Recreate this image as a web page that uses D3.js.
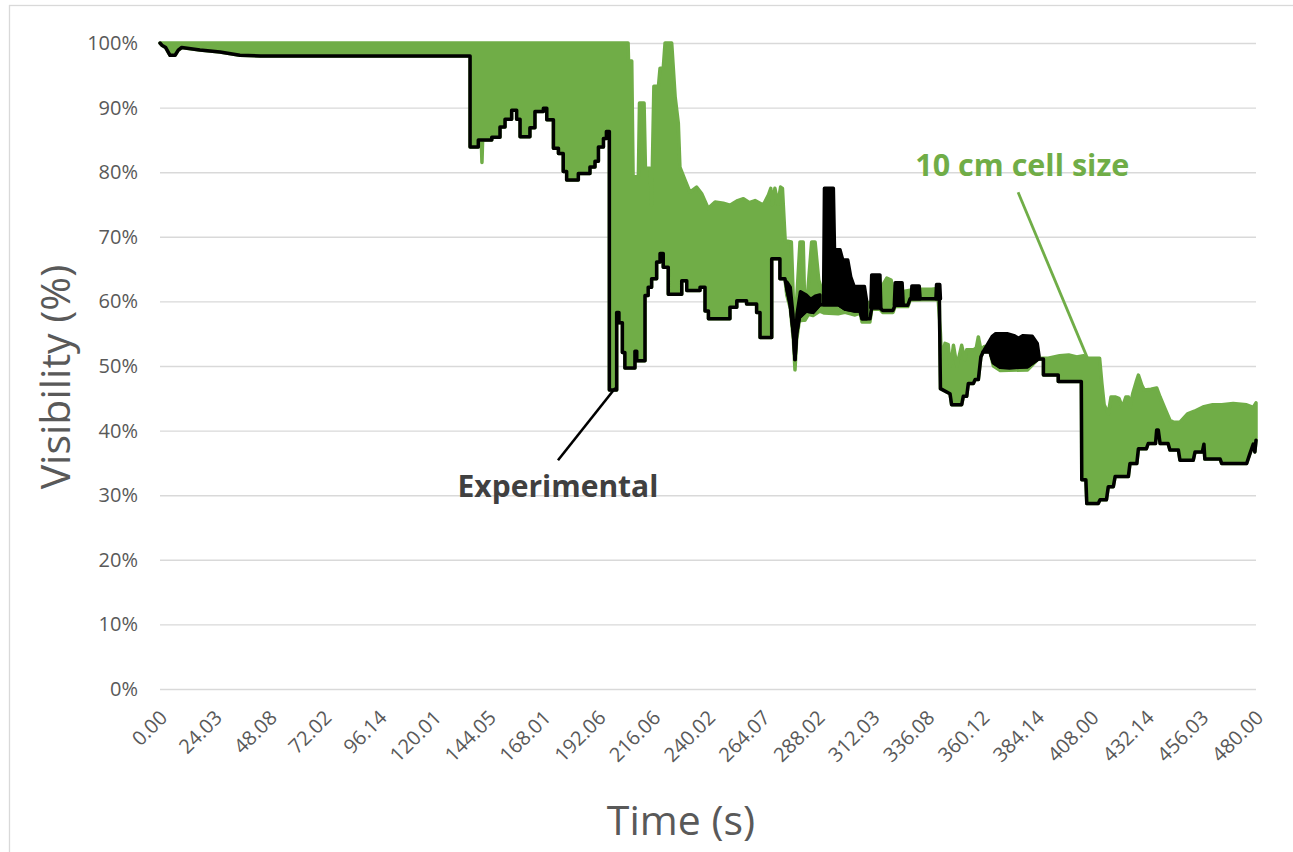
<!DOCTYPE html>
<html>
<head>
<meta charset="utf-8">
<script src="https://cdn.jsdelivr.net/npm/d3@7"></script>
<style>
  html, body { margin: 0; padding: 0; background: #ffffff; }
  svg { display: block; font-family: "Open Sans", "Liberation Sans", sans-serif; }
</style>
</head>
<body>
<svg id="chart" width="1293" height="852"></svg>
<script>
// ---------------- data (time in s, visibility in %) ----------------
const timeTickLabels = [0.00, 24.03, 48.08, 72.02, 96.14, 120.01, 144.05, 168.01, 192.06, 216.06,
  240.02, 264.07, 288.02, 312.03, 336.08, 360.12, 384.14, 408.00, 432.14, 456.03, 480.00];
const visibilityTicks = [0, 10, 20, 30, 40, 50, 60, 70, 80, 90, 100];

// Experimental series (main step line)
const experimental = [
  [0,100],[1,99.6],[2.5,99.3],[4.4,98.1],[6.6,98.1],[8,98.9],[9.5,99.3],[17.5,98.9],[26.3,98.6],[35,98.1],[44,98.0],[135.8,98.0],
  [135.8,83.9],[139.4,83.9],[139.4,85.0],[145.3,85.0],[145.3,85.4],[148.9,85.4],[148.9,87.0],[151.1,87.0],[151.1,88.2],[154.0,88.2],
  [154.0,89.6],[156.2,89.6],[156.2,88.2],[157.7,88.2],[157.7,85.5],[162.0,85.5],[162.0,86.9],[164.2,86.9],[164.2,89.4],[167.9,89.4],
  [167.9,89.9],[169.4,89.9],[169.4,88.1],[172.3,88.1],[172.3,83.7],[174.5,83.7],[174.5,82.9],[176.6,82.9],[176.6,80.1],[178.1,80.1],
  [178.1,78.8],[183.2,78.8],[183.2,79.8],[188.3,79.8],[188.3,80.8],[190.5,80.8],[190.5,81.7],[192.0,81.7],[192.0,83.9],[194.2,83.9],
  [194.2,85.2],[195.5,85.2],[195.5,86.3],[196.8,86.3],
  [196.8,46.3],[200,46.3],[200,58.3],[201,58.3],[201,56.7],[202.5,56.7],[202.5,52.1],[203.6,52.1],[203.6,49.7],[208.0,49.7],
  [208.0,52.3],[208.8,52.3],[208.8,50.8],[212.4,50.8],[212.4,60.9],[213.8,60.9],[213.8,62.2],[215.3,62.2],[215.3,63.5],[217.5,63.5],
  [217.5,66.1],[219.0,66.1],[219.0,67.4],[220.4,67.4],[220.4,65.3],[222.6,65.3],[222.6,61.1],[228.5,61.1],[228.5,63.2],[230.7,63.2],
  [230.7,61.7],[236.5,61.7],[236.5,62.2],[238.7,62.2],[238.7,58.5],[240.2,58.5],[240.2,57.3],[249.6,57.3],[249.6,59.1],[252.6,59.1],
  [252.6,60.1],[256.9,60.1],[256.9,59.6],[261.3,59.6],[261.3,58.3],[262.8,58.3],[262.8,54.4],[267.9,54.4],[267.9,66.6],[271.5,66.6],
  [271.5,63.5],[273.7,63.5],[274.5,62],[276,59.5],[277.4,55],[278.1,51],[278.8,55],[280,57.5],[283,58.5],[286,58.3],[289,59.5],
  [297,59.5],[300,58.8],[304.4,58.5],[306.6,58.5],[307.5,57.3],[310.9,57.3],[311.7,59],[315.3,59],[316.5,58.6],[321,58.6],
  [321.9,59.4],[327.5,59.4],[328.5,60.4],[340.2,60.4],[341.3,60.8],[341.8,46.5],[346,45.7],[346.7,44.0],[351.1,44.0],[351.8,45.3],
  [353.3,45.3],[354,47.3],[356.2,47.3],[357,47.9],[358.4,47.9],[359.5,51.4],[360.5,52.2],[363.5,52.2],[365,50.5],[368,49.8],
  [380,49.9],[384.7,51.1],[386.9,51.1],[386.9,48.6],[393.4,48.6],[393.4,47.6],[403.5,47.6],[403.7,32.4],[405.5,32.4],[405.9,28.7],
  [410.9,28.7],[411.7,29.3],[414.5,29.3],[415.3,31.3],[417.5,31.3],[418.3,32.9],[424.1,32.9],[424.8,34.9],[427.8,34.9],[428.5,37.2],
  [432,37.2],[432.8,38.0],[436,38.0],[436.5,40.1],[437.2,40.1],[438,38.0],[441.5,38.0],[442.3,37.0],[446,37.0],[446.7,35.4],
  [452.5,35.4],[453.3,36.7],[456.5,36.7],[457.2,37.9],[457.6,35.6],[464.3,35.6],[465,34.9],[475.9,34.9],[477.3,36.4],[478.8,37.9],
  [479.5,36.7],[480,38.5]
];

// Experimental: rapidly oscillating stretches (outline: upper edge, then lower edge back)
const expOscillation1 = [[274.5,63],[276,62.2],[277.2,58],[278.1,52.5],[279,58],[280.5,61.5],[283,61],[285,60.3],[287,60.8],[289,61],
  [289,59.5],[286,58.3],[283,58.5],[280,57.5],[278.8,55],[278.1,51],[277.4,55],[276,59.5],[274.5,62]];
const expOscillation2 = [[290.6,59.5],[291.0,77.5],[294.9,77.5],[295.4,68.0],[297.8,68.0],[299.0,66.4],[301.2,66.4],[302.5,63.8],
  [304.0,62.3],[308.5,62.3],[309.5,60],[309.5,57.3],[307.5,57.3],[306.6,58.5],[304.4,58.5],[300,58.8],[297,59.5]];
const expOscillation3 = [[311.3,59],[311.7,64.1],[315.3,64.1],[315.7,59]];
const expOscillation4 = [[321.6,59.4],[322,62.9],[325,62.9],[325.5,59.4]];
const expOscillation5 = [[329,60.4],[329.3,62.4],[332.5,62.4],[332.9,60.4]];
const expOscillation6 = [[339.8,60.4],[340.1,62.6],[341.5,62.6],[341.8,60.4]];
const expOscillation7 = [[360.5,52.2],[362.7,53.5],[364.5,54.6],[366,55.0],[371,55.0],[374,54.7],[376,54.3],[378,54.7],[382,54.6],
  [384.2,53.5],[385,51.5],[384.7,51.1],[380,49.9],[372,49.7],[368,49.8],[365,50.5],[363.5,52.2]];

// 10 cm cell size series: upper envelope of its oscillation
const cell10High = [
  [0,100],[205.0,100],[205.2,97.2],[206.6,97.2],[207.2,79.3],[209.5,79.3],[210.0,90.7],[212.0,90.7],[212.6,80.6],[214.6,80.6],
  [215.3,74.9],[216.3,93.3],[218.3,93.3],[219.0,96.1],[220.4,96.1],[221.2,100],[224.1,100],[225.6,91.7],[227.0,87.6],[227.7,80.8],
  [229.9,78.8],[232.1,76.9],[235.0,77.7],[237.2,76.7],[240.1,74.4],[243.1,75.4],[246.7,75.2],[249.6,74.9],[253,75.6],[255.5,75.9],
  [258,75.3],[260.6,75.6],[264.2,74.9],[266.5,76.5],[267.5,77.5],[268.2,75.0],[269.3,77.5],[270.6,75.1],[271.8,77.7],[272.6,77.5],
  [273.8,69.4],[276.5,69.2],[277.4,60],[278.1,52],[278.8,60],[280.3,69.2],[281.7,69.2],[282.5,57.1],[283.8,62],[285.4,69.2],
  [286.9,69.2],[288.5,63.3],[290.5,61],[295,60.5],[300,60],[305,60.3],[310,59.8],[313,60],[315.3,60.5],[316.5,62.5],[318.3,63.6],
  [320.2,63.3],[321.5,61],[323,60.5],[325,61.5],[328,61.7],[330.7,61.9],[338,61.9],[340.5,62],[341.8,55],[342.3,51],[343.8,53.5],
  [345.2,53.3],[346,50],[346.7,51],[347.5,53.2],[349,50],[351.1,53.2],[352.5,51],[353.3,52.5],[356.2,52.5],[357.5,52.8],[358.4,54.5],
  [359.5,52.5],[361,53],[363.5,53],[367,52],[372,51],[378,50.8],[384.7,51.2],[389,51.2],[394,51.6],[398,51.7],[401.5,51.4],
  [404.5,51.6],[405.9,51.2],[411.5,51.2],[412.5,47.3],[413.5,44],[415.3,42.6],[416.5,45.2],[418.3,45.2],[420,45.0],[421.5,43.6],
  [423,45.2],[424.1,45.2],[424.8,43.6],[426,45.7],[427.5,47.5],[428.5,48.6],[430,47],[431,46.3],[434,46.4],[436.5,46.6],[438,45.2],
  [440,43.5],[442.3,41.6],[444,41.3],[446.7,41.3],[450,42.6],[453,43],[457.2,43.7],[461,44.0],[465,44.0],[470,44.2],[475.9,44.0],
  [478.8,43.6],[480,44.3]
];
// 10 cm cell size series: lower envelope of its oscillation
const cell10Low = [
  [0,100],[1,99.6],[2.5,99.3],[4.4,98.1],[6.6,98.1],[8,98.9],[9.5,99.3],[17.5,98.9],[26.3,98.6],[35,98.1],[44,98.0],[135.8,98.0],
  [135.8,83.9],[139.4,83.9],[139.4,85.0],[140.7,85.0],[141.0,81.5],[141.3,85.0],[145.3,85.0],[145.3,85.4],[148.9,85.4],[148.9,87.0],
  [151.1,87.0],[151.1,88.2],[154.0,88.2],[154.0,89.6],[156.2,89.6],[156.2,88.2],[157.7,88.2],[157.7,85.5],[162.0,85.5],[162.0,86.9],
  [164.2,86.9],[164.2,89.4],[167.9,89.4],[167.9,89.9],[169.4,89.9],[169.4,88.1],[172.3,88.1],[172.3,83.7],[174.5,83.7],[174.5,82.9],
  [176.6,82.9],[176.6,80.1],[178.1,80.1],[178.1,78.8],[183.2,78.8],[183.2,79.8],[188.3,79.8],[188.3,80.8],[190.5,80.8],[190.5,81.7],
  [192.0,81.7],[192.0,83.9],[194.2,83.9],[194.2,85.2],[195.5,85.2],[195.5,86.3],[196.8,86.3],
  [196.8,46.3],[200,46.3],[200,58.3],[201,58.3],[201,56.7],[202.5,56.7],[202.5,52.1],[203.6,52.1],[203.6,49.7],[208.0,49.7],
  [208.0,52.3],[208.8,52.3],[208.8,50.8],[212.4,50.8],[212.4,60.9],[213.8,60.9],[213.8,62.2],[215.3,62.2],[215.3,63.5],[217.5,63.5],
  [217.5,66.1],[219.0,66.1],[219.0,67.4],[220.4,67.4],[220.4,65.3],[222.6,65.3],[222.6,61.1],[228.5,61.1],[228.5,63.2],[230.7,63.2],
  [230.7,61.7],[236.5,61.7],[236.5,62.2],[238.7,62.2],[238.7,58.5],[240.2,58.5],[240.2,57.3],[249.6,57.3],[249.6,59.1],[252.6,59.1],
  [252.6,60.1],[256.9,60.1],[256.9,59.6],[261.3,59.6],[261.3,58.3],[262.8,58.3],[262.8,54.4],[267.9,54.4],[267.9,66.6],[271.5,66.6],
  [271.5,63.5],[273.7,63.5],[274.5,61],[276,59],[277.4,54],[278.1,49.4],[278.8,54],[280,57],[282.5,57.1],[284,58],[286,57.8],
  [289,58.5],[291,58.2],[297,58.1],[300,58.3],[304.4,57.9],[306.6,58.2],[307.5,56.8],[310.9,56.8],[311.7,58.8],[315.3,58.8],
  [316.5,58.3],[321,58.3],[321.9,59.2],[327.5,59.2],[328.5,60.2],[340.2,60.3],[341.3,60.6],[341.8,46.5],[346,45.7],[346.7,44.0],
  [351.1,44.0],[351.8,45.3],[353.3,45.3],[354,47.3],[356.2,47.3],[357,47.9],[358.4,47.9],[359.5,51.4],[360.5,52.2],[363.5,52.2],
  [365,50],[368,49.3],[380,49.4],[384.7,51.1],[386.9,51.1],[386.9,48.6],[393.4,48.6],[393.4,47.6],[403.5,47.6],[403.7,32.4],
  [405.5,32.4],[405.9,28.7],[410.9,28.7],[411.7,29.3],[414.5,29.3],[415.3,31.3],[417.5,31.3],[418.3,32.9],[424.1,32.9],[424.8,34.9],
  [427.8,34.9],[428.5,37.2],[432,37.2],[432.8,38.0],[436,38.0],[436.5,40.1],[437.2,40.1],[438,38.0],[441.5,38.0],[442.3,37.0],
  [446,37.0],[446.7,35.4],[452.5,35.4],[453.3,36.7],[456.5,36.7],[457.2,37.9],[457.6,35.6],[464.3,35.6],[465,34.9],[475.9,34.9],
  [477.3,36.4],[478.8,37.9],[479.5,36.7],[480,38.5]
];

// Callout labels: [text anchor point, leader start, leader end] in (time, %) units
const expLabel = { text: "Experimental", at: [174.3, 29.7], from: [174.3, 35.4], to: [199.4, 46.6] };
const cellLabel = { text: "10 cm cell size", at: [330.8, 79.4], from: [375.8, 76.9], to: [406.1, 51.3] };

// ---------------- drawing ----------------
const svg = d3.select("#chart");
const x = d3.scaleLinear().domain([0, 480]).range([160, 1256]);
const y = d3.scaleLinear().domain([0, 100]).range([689, 43]);

// chart area border
svg.append("rect").attr("x", 9.5).attr("y", 5.5).attr("width", 1300).attr("height", 900)
  .attr("fill", "#ffffff").attr("stroke", "#d9d9d9").attr("stroke-width", 1.3);

// gridlines + y tick labels
const yAxis = d3.axisLeft(y).tickValues(visibilityTicks).tickSize(-(1256 - 160)).tickPadding(22)
  .tickFormat(d => d + "%");
const gy = svg.append("g").attr("transform", "translate(160,0)").call(yAxis);
gy.select(".domain").remove();
gy.selectAll(".tick line").attr("stroke", "#d9d9d9").attr("stroke-width", 1.4);
gy.selectAll(".tick text").attr("fill", "#595959").attr("font-size", 20)
  .attr("font-family", "'Open Sans', sans-serif");

// x tick labels
const xAxis = d3.axisBottom(x).tickValues(timeTickLabels).tickSize(0).tickFormat(d => d.toFixed(2));
const gx = svg.append("g").attr("transform", "translate(0,689)").call(xAxis);
gx.select(".domain").remove();
gx.selectAll(".tick text")
  .attr("fill", "#595959").attr("font-size", 20).attr("font-family", "'Open Sans', sans-serif")
  .attr("text-anchor", "end").attr("dy", null).attr("y", 0)
  .attr("transform", "translate(8,30) rotate(-45)");

const line = d3.line().x(d => x(d[0])).y(d => y(d[1]));
const plot = svg.append("g");

// 10 cm cell size band
const cellPoly = cell10High.concat(cell10Low.slice().reverse());
plot.append("path").attr("d", line(cellPoly) + "Z")
  .attr("fill", "#70ad47").attr("stroke", "#70ad47").attr("stroke-width", 3.5)
  .attr("stroke-linejoin", "round");

// experimental line
plot.append("path").attr("d", line(experimental))
  .attr("fill", "none").attr("stroke", "#000000").attr("stroke-width", 3.5)
  .attr("stroke-linejoin", "round").attr("stroke-linecap", "round");

// experimental oscillation stretches
[expOscillation1, expOscillation2, expOscillation3, expOscillation4, expOscillation5, expOscillation6, expOscillation7]
  .forEach(poly => {
    plot.append("path").attr("d", line(poly) + "Z")
      .attr("fill", "#000000").attr("stroke", "#000000").attr("stroke-width", 3.5)
      .attr("stroke-linejoin", "round");
  });

// callouts
svg.append("line")
  .attr("x1", x(expLabel.from[0])).attr("y1", y(expLabel.from[1]))
  .attr("x2", x(expLabel.to[0])).attr("y2", y(expLabel.to[1]))
  .attr("stroke", "#000000").attr("stroke-width", 2.6);
svg.append("text").attr("x", x(expLabel.at[0])).attr("y", y(expLabel.at[1]))
  .attr("text-anchor", "middle").attr("font-size", 30).attr("font-weight", "bold")
  .attr("fill", "#404040").text(expLabel.text);

svg.append("line")
  .attr("x1", x(cellLabel.from[0])).attr("y1", y(cellLabel.from[1]))
  .attr("x2", x(cellLabel.to[0])).attr("y2", y(cellLabel.to[1]))
  .attr("stroke", "#70ad47").attr("stroke-width", 2.8);
svg.append("text").attr("x", x(cellLabel.at[0])).attr("y", y(cellLabel.at[1]))
  .attr("text-anchor", "start").attr("font-size", 30.5).attr("font-weight", "bold")
  .attr("fill", "#70ad47").text(cellLabel.text);

// axis titles
svg.append("text").attr("transform", "translate(70,377) rotate(-90)")
  .attr("text-anchor", "middle").attr("font-size", 41).attr("fill", "#595959")
  .text("Visibility (%)");
svg.append("text").attr("x", 681).attr("y", 835)
  .attr("text-anchor", "middle").attr("font-size", 41).attr("fill", "#595959")
  .text("Time (s)");
</script>
</body>
</html>
